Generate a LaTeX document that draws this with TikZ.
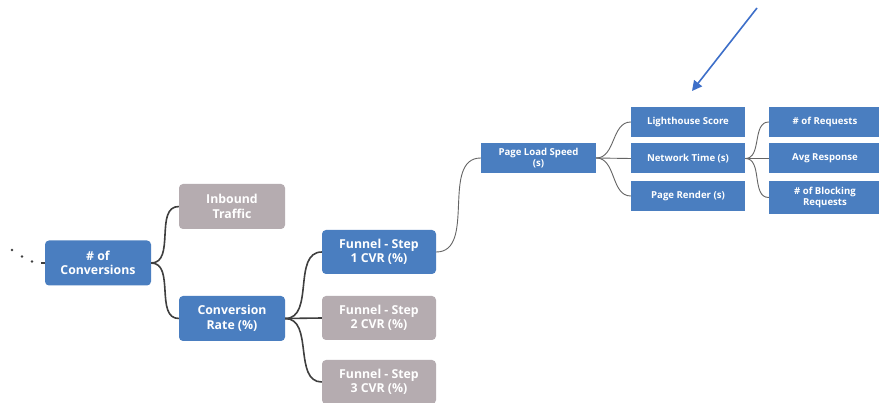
\documentclass[tikz,border=0pt]{standalone}
\usepackage{fontspec}
\setmainfont{Open Sans}
\usetikzlibrary{arrows.meta}
\definecolor{boxblue}{HTML}{4A7EC0}
\definecolor{boxgray}{HTML}{B5ACB0}
\definecolor{linkdark}{HTML}{3F3F3F}
\definecolor{arrowblue}{HTML}{3D6FC9}
\begin{document}
\begin{tikzpicture}[x=1pt,y=-1pt,
  bigbox/.style={rounded corners=4pt, minimum width=106pt, minimum height=45pt,
    text=white, font=\fontsize{12.3}{14.5}\selectfont\bfseries, align=center, inner sep=2pt},
  midbox/.style={bigbox, minimum width=114pt, minimum height=44pt},
  smallbox/.style={minimum width=114pt, minimum height=30pt, text=white,
    font=\fontsize{9.6}{11}\selectfont\bfseries, align=center, inner sep=1pt},
  blue/.style={fill=boxblue},
  grey/.style={fill=boxgray},
  thick link/.style={draw=linkdark, line width=1.6pt},
  thin link/.style={draw=linkdark!80, line width=0.9pt},
]
\useasboundingbox (0,0) rectangle (879,403);
\fill[white] (0,0) rectangle (879,403);

% root and first level
\node[bigbox, blue] (conv) at (98,263) {\# of\\Conversions};
\node[bigbox, grey] (inbound) at (232,206.5) {Inbound\\Traffic};
\node[bigbox, blue] (rate) at (232,318.5) {Conversion\\Rate (\%)};

% funnel steps
\node[midbox, blue] (f1) at (379,252) {Funnel - Step\\1 CVR (\%)};
\node[midbox, grey] (f2) at (379,318) {Funnel - Step\\2 CVR (\%)};
\node[midbox, grey] (f3) at (379,382) {Funnel - Step\\3 CVR (\%)};

% page speed branch
\node[smallbox, blue, minimum width=115pt] (pls) at (538.5,158) {Page Load Speed\\(s)};
\node[smallbox, blue] (lh) at (688,122) {Lighthouse Score};
\node[smallbox, blue] (net) at (688,158.5) {Network Time (s)};
\node[smallbox, blue] (render) at (688,196) {Page Render (s)};
\node[smallbox, blue, minimum width=112pt] (req) at (825,122) {\# of Requests};
\node[smallbox, blue, minimum width=112pt] (avg) at (825,158.5) {Avg Response};
\node[smallbox, blue, minimum width=112pt, minimum height=33pt] (block) at (825,197.5) {\# of Blocking\\Requests};

% links
\draw[thick link] (conv.east) to[out=0,in=180] (inbound.west);
\draw[thick link] (conv.east) to[out=0,in=180] (rate.west);
\draw[thick link] (rate.east) to[out=0,in=180] (f1.west);
\draw[thick link] (rate.east) -- (f2.west);
\draw[thick link] (rate.east) to[out=0,in=180] (f3.west);
\draw[thin link] (f1.east) to[out=0,in=180] (pls.west);
\draw[thin link] (pls.east) to[out=0,in=180] (lh.west);
\draw[thin link] (pls.east) -- (net.west);
\draw[thin link] (pls.east) to[out=0,in=180] (render.west);
\draw[thin link] (net.east) to[out=0,in=180] (req.west);
\draw[thin link] (net.east) -- (avg.west);
\draw[thin link] (net.east) to[out=0,in=180] (block.west);

% trailing dots before the root
\coordinate (d1) at (12,250);
\coordinate (d2) at (22,256.5);
\coordinate (d3) at (32,261.5);
\foreach \d in {d1,d2,d3} \fill[linkdark] (\d) circle (1.3pt);
\coordinate (stub) at (41,263);
\draw[linkdark, line width=1.4pt] (stub) -- (conv.west);

% pointer arrow
\coordinate (atail) at (757,8);
\coordinate (ahead) at (692,91);
\draw[arrowblue, line width=1.6pt, -{Triangle[length=10pt,width=10pt]}] (atail) -- (ahead);
\end{tikzpicture}
\end{document}
